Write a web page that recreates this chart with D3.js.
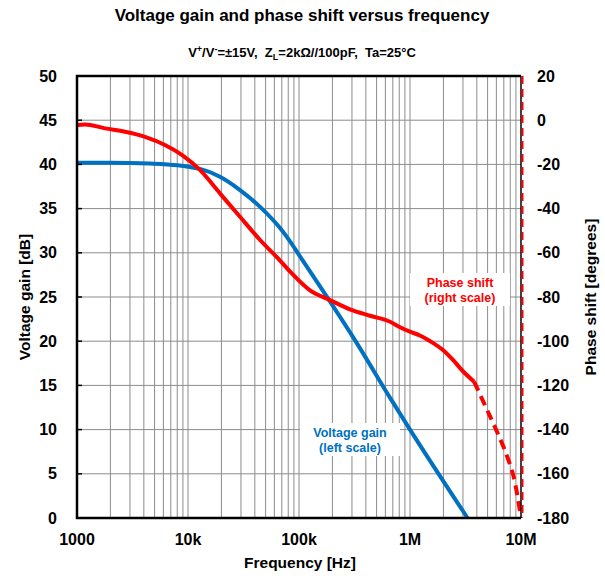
<!DOCTYPE html>
<html><head><meta charset="utf-8">
<script src="https://cdn.jsdelivr.net/npm/d3@7"></script>
<style>body{margin:0;background:#fff}text{font-family:Arial,"Liberation Sans",sans-serif;font-weight:bold}</style>
</head><body><svg id="c" width="605" height="576"></svg>
<script>
const gainFreq = [1000,2000,4500,8000,10400,12800,19400,29400,44600,67500,83000,102000,190000,316000,684000,1000000,3300000];
const gainDb   = [40.2,40.2,40.1,39.9,39.7,39.5,38.6,37.1,35.2,32.8,31.3,29.6,24.5,20.2,13.3,10.0,0];
const phaseFreq = [1000,1180,1790,2700,4100,6200,8800,12800,19400,29400,44600,67500,83000,125600,190000,288000,436000,661000,813000,1000000,1230000,1510000,1980000,2440000,3000000,3780000];
const phaseDeg  = [-2.2,-1.9,-3.7,-5.2,-7.5,-11.2,-15.7,-22.5,-33.1,-43.7,-54.2,-63.5,-68.5,-77.0,-81.4,-85.6,-88.5,-91.2,-93.7,-95.7,-97.4,-99.9,-104,-108.5,-113.6,-118.3];
const phaseDashFreq = [3780000,4940000,6080000,7480000,8830000,10000000];
const phaseDashDeg  = [-118.3,-131,-141,-152,-164,-180];
const xTickVals = [1e3,1e4,1e5,1e6,1e7];
const xTickLabels = ["1000","10k","100k","1M","10M"];
const leftTicks = [0,5,10,15,20,25,30,35,40,45,50];
const rightTicks = [20,0,-20,-40,-60,-80,-100,-120,-140,-160,-180];

const svg = d3.select("#c");
const L=77,R=521,T=76,B=518;
const x = d3.scaleLog().domain([1e3,1e7]).range([L,R]);
const yL = d3.scaleLinear().domain([0,50]).range([B,T]);
const yR = d3.scaleLinear().domain([-180,20]).range([B,T]);

// grid
const minor=[];
for(let d=1e3; d<1e7; d*=10) for(let k=2;k<=9;k++) minor.push(d*k);
minor.push(1e4,1e5,1e6);
svg.append("g").selectAll("line").data(minor).join("line")
  .attr("x1",d=>x(d)).attr("x2",d=>x(d)).attr("y1",T).attr("y2",B)
  .attr("stroke","#8c8c8c").attr("stroke-width",1);
svg.append("g").selectAll("line").data(leftTicks.slice(1,-1)).join("line")
  .attr("x1",L).attr("x2",R).attr("y1",d=>yL(d)).attr("y2",d=>yL(d))
  .attr("stroke","#8c8c8c").attr("stroke-width",1);

// labels (white boxes)
function label(lines,cx,cy,color){
  const g=svg.append("g");
  g.append("rect").attr("x",cx-50).attr("y",cy-10).attr("width",100).attr("height",33).attr("fill","#fff");
  lines.forEach((t,i)=>g.append("text").attr("x",cx).attr("y",cy+4+i*15).attr("text-anchor","middle")
    .attr("font-size",12.5).attr("fill",color).text(t));
}
label(["Voltage gain","(left scale)"],350,433,"#0070C0");
label(["Phase shift","(right scale)"],460,283,"#FF0000");

// curves
const lg = d3.line().x(d=>x(d[0])).y(d=>yL(d[1])).curve(d3.curveMonotoneX);
const lp = d3.line().x(d=>x(d[0])).y(d=>yR(d[1])).curve(d3.curveMonotoneX);
svg.append("path").attr("d",lg(d3.zip(gainFreq,gainDb))).attr("fill","none").attr("stroke","#0070C0").attr("stroke-width",4);
svg.append("path").attr("d",lp(d3.zip(phaseFreq,phaseDeg))).attr("fill","none").attr("stroke","#FF0000").attr("stroke-width",4);
svg.append("path").attr("d",lp(d3.zip(phaseDashFreq,phaseDashDeg))).attr("fill","none").attr("stroke","#FF0000").attr("stroke-width",4).attr("stroke-dasharray","10,6");

// frame
svg.append("path").attr("d",`M${R},${T}H${L}V${B}H${R}`).attr("fill","none").attr("stroke","#000").attr("stroke-width",2.5);
svg.append("line").attr("x1",R).attr("x2",R).attr("y1",T).attr("y2",B).attr("stroke","#000").attr("stroke-width",1.5);
svg.append("line").attr("x1",R+1.5).attr("x2",R+1.5).attr("y1",T).attr("y2",B).attr("stroke","#FF0000").attr("stroke-width",2).attr("stroke-dasharray","8,5");

// ticks
svg.append("g").selectAll("line").data(leftTicks).join("line")
  .attr("x1",L).attr("x2",L+5).attr("y1",d=>yL(d)).attr("y2",d=>yL(d)).attr("stroke","#000").attr("stroke-width",1.5);
svg.append("g").selectAll("text").data(leftTicks).join("text")
  .attr("x",57).attr("y",d=>yL(d)+5.5).attr("text-anchor","end").attr("font-size",16).text(d=>d);
svg.append("g").selectAll("text").data(rightTicks).join("text")
  .attr("x",537).attr("y",d=>yR(d)+5.5).attr("text-anchor","start").attr("font-size",16).text(d=>d);
svg.append("g").selectAll("text").data(xTickVals).join("text")
  .attr("x",d=>x(d)).attr("y",545).attr("text-anchor","middle").attr("font-size",16).text((d,i)=>xTickLabels[i]);

// titles
svg.append("text").attr("x",302).attr("y",21).attr("text-anchor","middle").attr("font-size",17).text("Voltage gain and phase shift versus frequency");
const st = svg.append("text").attr("x",302).attr("y",57).attr("text-anchor","middle").attr("font-size",13);
st.append("tspan").text("V");
st.append("tspan").attr("font-size",9).attr("dy",-5).text("+");
st.append("tspan").attr("dy",5).text("/V");
st.append("tspan").attr("font-size",9).attr("dy",-5).text("-");
st.append("tspan").attr("dy",5).text("=±15V,\u00a0\u00a0Z");
st.append("tspan").attr("font-size",9).attr("dy",3).text("L");
st.append("tspan").attr("dy",-3).text("=2kΩ//100pF,\u00a0\u00a0Ta=25°C");
svg.append("text").attr("x",300).attr("y",568).attr("text-anchor","middle").attr("font-size",15.5).text("Frequency [Hz]");
svg.append("text").attr("transform","translate(30,297) rotate(-90)").attr("text-anchor","middle").attr("font-size",15.5).text("Voltage gain [dB]");
svg.append("text").attr("transform","translate(596,297) rotate(-90)").attr("text-anchor","middle").attr("font-size",15.5).text("Phase shift [degrees]");
</script></body></html>
